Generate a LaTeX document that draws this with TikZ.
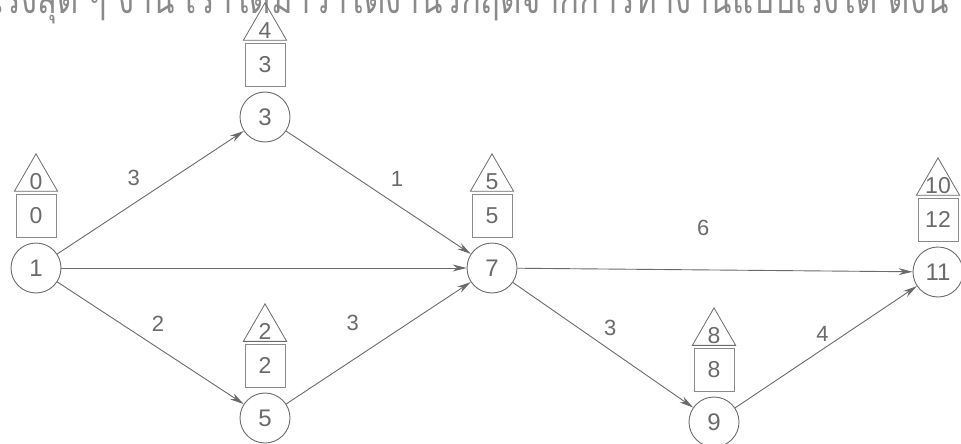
\documentclass[tikz,border=0pt]{standalone}
\usepackage{fontspec}
\setmainfont{Liberation Sans}
\newfontfamily\thaifont[Script=Thai]{Loma}
\usepackage{xcolor}
\definecolor{pencil}{HTML}{6A6A6A}
\definecolor{lead}{HTML}{8A8A8A}
\usetikzlibrary{arrows.meta,positioning,shapes.geometric}
\tikzset{
  >={Stealth[length=14pt,width=7pt]},
  evt/.style={circle,draw=pencil,line width=0.9pt,minimum size=50pt,inner sep=0pt,font=\fontsize{24}{24}\selectfont,text=pencil},
  lft/.style={rectangle,draw=lead,line width=0.8pt,minimum width=40pt,minimum height=43pt,inner sep=0pt,font=\fontsize{23}{23}\selectfont,text=pencil},
  eft/.style={regular polygon,regular polygon sides=3,draw=pencil,line width=0.8pt,minimum size=50pt,inner sep=0pt},
  tnum/.style={font=\fontsize{23}{23}\selectfont,text=pencil,inner sep=0pt,yshift=-3pt},
  act/.style={->,draw=pencil,line width=0.9pt},
  elab/.style={font=\fontsize{22}{22}\selectfont,text=pencil},
}
\begin{document}
\begin{tikzpicture}[x=1pt,y=-1pt,node distance=5pt]
\useasboundingbox (0,0) rectangle (961,444);
\clip (0,0) rectangle (961,444);
% heading line, cut off at the top
\node[anchor=base west,inner sep=0pt,text=lead] (head) at (-8,14) {\scalebox{0.82}[1]{\thaifont\fontsize{40}{40}\selectfont เร่งสุด ๆ งาน เราได้มาว่าได้งานวิกฤตจากการทำงานแบบเร่งได้ ดังนี้}};
% events
\node[evt] (n1) at (36,268) {1};
\node[evt] (n3) at (265,117) {3};
\node[evt] (n7) at (492,268) {7};
\node[evt] (n5) at (265,418) {5};
\node[evt] (n9) at (714,422) {9};
\node[evt] (n11) at (938,272) {11};
% latest times (boxes) and earliest times (triangles)
\foreach \n/\ls/\es in {1/0/0,3/3/4,7/5/5,5/2/2,9/8/8,11/12/10}{
  \node[lft,above=of n\n] (s\n) {\ls};
  \node[eft,above=2pt of s\n,label={[tnum]center:\es}] (t\n) {};
}
% activities
\draw[act] (n1) -- node[elab,pos=.41,yshift=26pt] (a13) {3} (n3);
\draw[act] (n3) -- node[elab,pos=.60,yshift=26pt] (a37) {1} (n7);
\draw[act] (n1) -- (n7);
\draw[act] (n1) -- node[elab,pos=.54,yshift=24pt] (a15) {2} (n5);
\draw[act] (n5) -- node[elab,pos=.36,yshift=37pt] (a57) {3} (n7);
\draw[act] (n7) -- node[elab,pos=.47,yshift=42pt] (a711) {6} (n11);
\draw[act] (n7) -- node[elab,pos=.54,yshift=22pt] (a79) {3} (n9);
\draw[act] (n9) -- node[elab,pos=.48,yshift=16pt] (a911) {4} (n11);
\end{tikzpicture}
\end{document}
